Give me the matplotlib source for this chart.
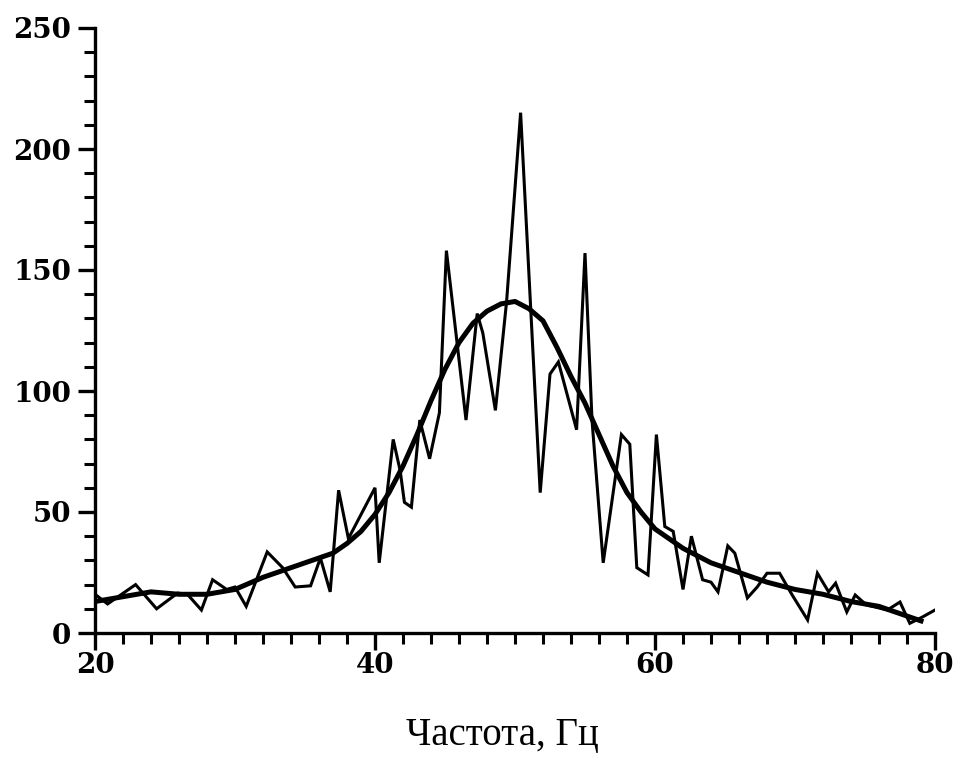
import matplotlib
matplotlib.use("Agg")
import matplotlib.pyplot as plt
from matplotlib.ticker import MultipleLocator

# Noisy measured spectrum (frequency, Hz ; value)
freq_raw = [20.0, 20.9, 22.9, 24.4, 25.9, 26.6, 27.6, 28.4, 29.4, 30.0, 30.8, 32.3,
            33.4, 34.3, 35.4, 36.1, 36.8, 37.4, 38.1, 40.0, 40.3, 41.3, 41.8, 42.1,
            42.6, 43.2, 43.9, 44.6, 45.1, 46.5, 47.3, 47.7, 48.6, 49.4, 50.4, 51.8,
            52.5, 53.1, 54.4, 55.0, 55.5, 56.3, 57.6, 58.2, 58.7, 59.5, 60.1, 60.7,
            61.3, 62.0, 62.6, 63.4, 64.0, 64.5, 65.2, 65.7, 66.6, 67.3, 68.0, 68.9,
            69.8, 70.9, 71.6, 72.4, 72.9, 73.7, 74.3, 75.1, 76.6, 77.5, 78.2, 79.1, 80.0]
vals_raw = [16, 12, 20, 10, 16.5, 16, 9.5, 22, 18, 19, 11, 33.5,
            27, 19, 19.5, 31, 17, 59, 39, 60, 29, 80, 67, 54,
            52, 88, 72, 91, 158, 88, 132, 124, 92, 137, 215, 58,
            107, 112, 84, 157, 88, 29, 82, 78, 27, 24, 82, 44,
            42, 18, 40, 22, 21, 17, 36, 33, 14.5, 19, 24.7, 24.7,
            15.7, 5.4, 24.7, 17, 20.6, 8.7, 15.7, 11.6, 9.5, 12.8, 4, 6.6, 9.5]

# Smooth fitted curve
freq_fit = [20, 22, 24, 26, 28, 30, 32, 34, 36, 37, 38, 39, 40, 41, 42, 43, 44, 45,
            46, 47, 48, 49, 50, 51, 52, 53, 54, 55, 56, 57, 58, 59, 60, 61, 62, 64,
            66, 68, 70, 72, 74, 76, 78, 79]
vals_fit = [13, 15, 17, 16, 16, 18, 23, 27, 31, 33, 37, 42, 49, 58, 69, 82, 96, 109,
            120, 128, 133, 136, 137, 134, 129, 118, 106, 95, 82, 69, 58, 50, 43, 39, 35, 29,
            25, 21, 18, 16, 13, 11, 7, 5]

x_ticks = [20, 40, 60, 80]
y_ticks = [0, 50, 100, 150, 200, 250]
x_label = "Частота, Гц"

fig = plt.figure(figsize=(9.56, 7.65), dpi=100)
ax = fig.add_axes([95/956, 1 - 633/765, (935 - 95)/956, (633 - 28)/765])

ax.plot(freq_raw, vals_raw, color="black", lw=2.2, solid_joinstyle="miter")
ax.plot(freq_fit, vals_fit, color="black", lw=3.6, solid_joinstyle="round")

ax.set_xlim(20, 80)
ax.set_ylim(0, 250)
ax.set_xticks(x_ticks)
ax.set_yticks(y_ticks)
ax.xaxis.set_minor_locator(MultipleLocator(2))
ax.yaxis.set_minor_locator(MultipleLocator(10))

for s in ("top", "right"):
    ax.spines[s].set_visible(False)
for s in ("left", "bottom"):
    ax.spines[s].set_linewidth(2.4)

ax.tick_params(which="major", direction="out", length=12, width=2.4)
ax.tick_params(which="minor", direction="out", length=8, width=2.2)
ax.tick_params(axis="y", which="major", pad=5)
ax.tick_params(axis="x", which="major", pad=2)

for lab in ax.get_xticklabels() + ax.get_yticklabels():
    lab.set_fontfamily("DejaVu Serif")
    lab.set_fontweight("heavy")
    lab.set_fontsize(20)

fig.text(502/956, 1 - 745/765, x_label, ha="center", va="baseline",
         fontsize=28, family="Liberation Serif")

fig.savefig("out.png", dpi=100, facecolor="white")
